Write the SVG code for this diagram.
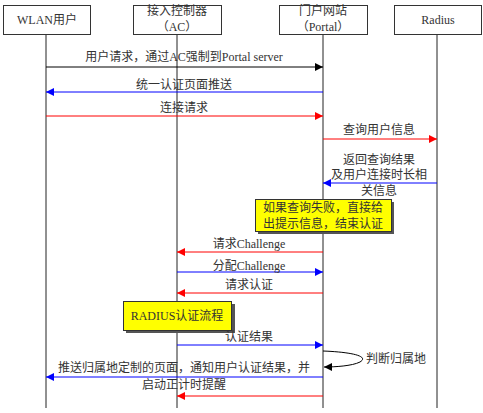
<svg xmlns="http://www.w3.org/2000/svg" width="483" height="413" viewBox="0 0 483 413">
<defs>
<marker id="mk" viewBox="0 0 10 10" refX="10" refY="5" markerWidth="8" markerHeight="8" markerUnits="userSpaceOnUse" orient="auto"><path d="M0,0L10,5L0,10z" fill="#000"/></marker>
<marker id="mb" viewBox="0 0 10 10" refX="10" refY="5" markerWidth="8" markerHeight="8" markerUnits="userSpaceOnUse" orient="auto"><path d="M0,0L10,5L0,10z" fill="#0000ff"/></marker>
<marker id="mr" viewBox="0 0 10 10" refX="10" refY="5" markerWidth="8" markerHeight="8" markerUnits="userSpaceOnUse" orient="auto"><path d="M0,0L10,5L0,10z" fill="#ff0000"/></marker>
</defs>
<style>
text{font-family:"Liberation Serif","Noto Sans CJK SC",serif;font-size:12px;fill:#333;text-anchor:middle}
.box{fill:#fff;stroke:#333;stroke-width:1}
.life{stroke:#222;stroke-width:1}
.k{stroke:#000;stroke-width:1;fill:none;marker-end:url(#mk)}
.b{stroke:#0000ff;stroke-width:1;fill:none;marker-end:url(#mb)}
.r{stroke:#ff0000;stroke-width:1;fill:none;marker-end:url(#mr)}
.note{fill:#ffff00;stroke:#333;stroke-width:1}
.shadow{fill:#555}
</style>
<rect width="483" height="413" fill="#fff"/>
<g id="lifelines">
<line class="life" x1="46" y1="34" x2="46" y2="408"/>
<line class="life" x1="177" y1="34" x2="177" y2="408"/>
<line class="life" x1="323" y1="34" x2="323" y2="408"/>
<line class="life" x1="437" y1="34" x2="437" y2="408"/>
</g>
<g id="wlan"><rect class="box" x="3.5" y="5.5" width="87" height="29"/><text x="47" y="24">WLAN用户</text></g>
<g id="ac"><rect class="box" x="133.5" y="5.5" width="88" height="29"/><text x="177" y="15">接入控制器</text><text x="177" y="31">（AC）</text></g>
<g id="portal"><rect class="box" x="279.5" y="5.5" width="88" height="29"/><text x="323" y="15">门户网站</text><text x="323" y="31">（Portal）</text></g>
<g id="radius"><rect class="box" x="394.5" y="5.5" width="87" height="29"/><text x="438" y="24">Radius</text></g>
<g id="note1"><rect class="shadow" x="258" y="202" width="136" height="32"/><rect class="note" x="255.5" y="199.5" width="136" height="32"/><text x="323" y="212">如果查询失败，直接给</text><text x="323" y="228">出提示信息，结束认证</text></g>
<g id="note2"><rect class="shadow" x="126" y="304" width="109" height="29"/><rect class="note" x="123.5" y="301.5" width="108" height="29"/><text x="177" y="320">RADIUS认证流程</text></g>
<g id="connectors">
<line class="k" x1="46" y1="67" x2="323" y2="67"/>
<line class="b" x1="323" y1="92" x2="46" y2="92"/>
<line class="r" x1="46" y1="116" x2="323" y2="116"/>
<line class="r" x1="323" y1="139" x2="437" y2="139"/>
<line class="b" x1="437" y1="183" x2="323" y2="183"/>
<line class="r" x1="323" y1="252" x2="177" y2="252"/>
<line class="b" x1="177" y1="272" x2="323" y2="272"/>
<line class="r" x1="323" y1="293" x2="177" y2="293"/>
<line class="b" x1="177" y1="345" x2="323" y2="345"/>
<path class="k" d="M323,351 C350,352 370,356 360,362 C352,366 335,367 324,367"/>
<line class="b" x1="323" y1="377" x2="46" y2="377"/>
<line class="r" x1="323" y1="396" x2="177" y2="396"/>
</g>
<g id="labels">
<text x="184" y="61">用户请求，通过AC强制到Portal server</text>
<text x="184" y="89">统一认证页面推送</text>
<text x="184" y="112">连接请求</text>
<text x="379" y="134">查询用户信息</text>
<text x="379" y="164">返回查询结果</text>
<text x="379" y="179">及用户连接时长相</text>
<text x="379" y="195">关信息</text>
<text x="249" y="248">请求Challenge</text>
<text x="249" y="270">分配Challenge</text>
<text x="249" y="289">请求认证</text>
<text x="249" y="341">认证结果</text>
<text x="396" y="363">判断归属地</text>
<text x="184" y="372">推送归属地定制的页面，通知用户认证结果，并</text>
<text x="184" y="389">启动正计时提醒</text>
</g>
</svg>
